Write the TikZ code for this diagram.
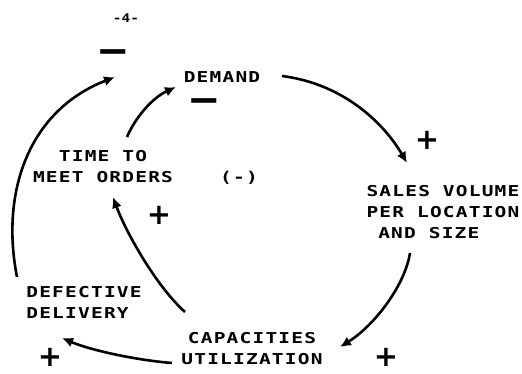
\documentclass[tikz,border=0pt]{standalone}
\usepackage{fontspec}
\setmainfont{DejaVu Sans}
\newfontfamily\labfont{DejaVu Sans Mono}[FakeStretch=1.3,LetterSpace=8]
\newfontfamily\pagefont{DejaVu Sans Mono}[FakeStretch=1.2]
\newfontfamily\signfont{DejaVu Sans}
\usetikzlibrary{arrows.meta}
\begin{document}
\begin{tikzpicture}[x=1pt,y=-1pt,
  lab/.style={inner sep=0pt,font=\labfont\bfseries\fontsize{15}{21}\selectfont},
  sgn/.style={inner sep=0pt,font=\signfont\bfseries\fontsize{29}{29}\selectfont},
  msgn/.style={inner sep=0pt,font=\signfont\bfseries\fontsize{40}{40}\selectfont},
  link/.style={line width=2.6pt,-{Latex[length=11pt,width=10pt]}}]
\useasboundingbox (0,0) rectangle (522,373);
\node[inner sep=0pt,font=\pagefont\bfseries\fontsize{12}{14}\selectfont] (page) at (126,18) {-4-};
\node[lab] (demand) at (222,77) {DEMAND};
\node[lab,align=left] (sales) at (443,212) {SALES VOLUME\\PER LOCATION\\\hphantom{A}AND SIZE};
\node[lab,align=center] (time) at (103,167) {TIME TO\\MEET ORDERS};
\node[lab] (neg) at (239,178) {(-)};
\node[lab,align=center] (cap) at (252,349) {CAPACITIES\\UTILIZATION};
\node[lab,align=left] (def) at (84,302) {DEFECTIVE\\DELIVERY};
\node[msgn] (m1) at (113,57) {−};
\node[msgn] (m2) at (204,106) {−};
\node[sgn] (p1) at (427,140) {+};
\node[sgn] (p2) at (159,215) {+};
\node[sgn] (p3) at (386,357) {+};
\node[sgn] (p4) at (50,357) {+};
\coordinate (a1s) at (282,76);  \coordinate (a1e) at (407,163);
\coordinate (a2s) at (410,253); \coordinate (a2e) at (340,347);
\coordinate (a3s) at (172,363); \coordinate (a3e) at (62,338);
\coordinate (a4s) at (17,277);  \coordinate (a4e) at (115,77);
\coordinate (a5s) at (127,137); \coordinate (a5e) at (176,87);
\coordinate (a6s) at (185,312); \coordinate (a6e) at (113,197);
\draw[link] (a1s) .. controls (345,84) and (385,125) .. (a1e);
\draw[link] (a2s) .. controls (405,285) and (375,325) .. (a2e);
\draw[link] (a3s) .. controls (135,360) and (90,350) .. (a3e);
\draw[link] (a4s) .. controls (0,190) and (30,110) .. (a4e);
\draw[link] (a5s) .. controls (135,118) and (152,98) .. (a5e);
\draw[link] (a6s) .. controls (155,285) and (125,230) .. (a6e);
\end{tikzpicture}
\end{document}
